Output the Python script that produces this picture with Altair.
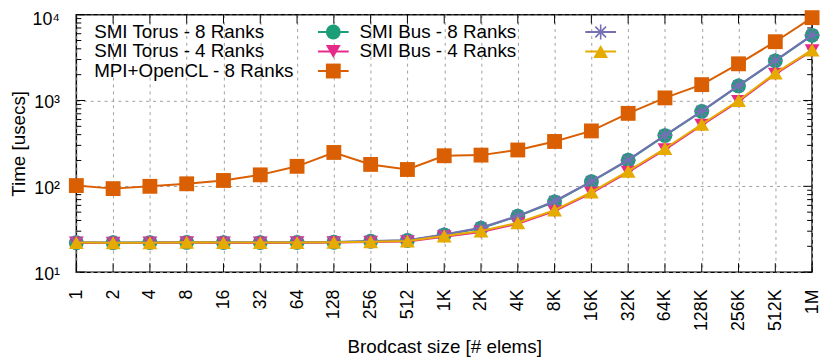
import altair as alt
import pandas as pd

# ---------------- data ----------------
sizes = ["1", "2", "4", "8", "16", "32", "64", "128", "256", "512",
         "1K", "2K", "4K", "8K", "16K", "32K", "64K", "128K", "256K", "512K", "1M"]

torus8 = [22.0, 22.0, 22.1, 22.2, 22.1, 22.1, 22.2, 22.3, 22.9, 23.4,
          27.2, 32.5, 44.8, 66, 113, 201, 390, 745, 1480, 2900, 5740]
torus4 = [21.9, 21.8, 21.9, 22.1, 21.9, 21.9, 22.0, 22.1, 22.4, 22.7,
          25.9, 29.4, 36.6, 51.3, 83.5, 146, 268, 515, 975, 2030, 3800]
mpi8 = [102, 94, 100, 107, 117, 136, 171, 248, 180, 157,
        227, 231, 265, 333, 442, 708, 1072, 1530, 2675, 4840, 9230]
bus8 = [22.3, 22.2, 22.2, 22.4, 22.3, 22.3, 22.3, 22.4, 23.0, 23.6,
        27.5, 32.9, 45.3, 67, 114, 203, 394, 752, 1490, 2920, 5780]
bus4 = [22.1, 22.0, 22.0, 22.3, 22.1, 22.1, 22.1, 22.3, 22.6, 23.0,
        26.4, 30.1, 37.6, 52.7, 85.7, 150, 276, 528, 1000, 2083, 3880]

series_names = ["SMI Torus - 8 Ranks", "SMI Torus - 4 Ranks", "MPI+OpenCL - 8 Ranks",
                "SMI Bus - 8 Ranks", "SMI Bus - 4 Ranks"]
series_values = [torus8, torus4, mpi8, bus8, bus4]

decades = [10, 100, 1000, 10000]
minor_ticks = [m * d for d in [10, 100, 1000] for m in range(2, 10)]

# ---------------- styles ----------------
W, H = 743, 260
FONT = "Liberation Sans"
colors = ["#1b9e77", "#e7298a", "#d95f02", "#7570b3", "#e6ab02"]
STAR = "M-1,0L1,0M0,-1L0,1M-0.72,-0.72L0.72,0.72M-0.72,0.72L0.72,-0.72"
shapes = ["circle", "triangle-down", "square", STAR, "triangle-up"]
filled = [True, True, True, False, True]

xscale = alt.Scale(type="point", padding=0, domain=sizes)
yscale = alt.Scale(type="log", domain=[10, 10000])

y_label_expr = ("'10' + (datum.value == 10 ? '\u00b9' : datum.value == 100 ? '\u00b2' : "
                "datum.value == 1000 ? '\u00b3' : '\u2074')")

x_axis = alt.Axis(title="Brodcast size [# elems]", labelAngle=270,
                  labelAlign="right", labelBaseline="middle",
                  labelPadding=17, ticks=False, domain=False,
                  grid=True, gridDash=[3, 4], gridColor="#a0a0a0",
                  gridWidth=1, titlePadding=7, labelFontSize=18, titleFontSize=19)
y_axis = alt.Axis(title="Time [usecs]", values=decades, labelExpr=y_label_expr,
                  ticks=False, domain=False, grid=True, gridDash=[3, 4],
                  gridColor="#a0a0a0", gridWidth=1, labelPadding=17,
                  titlePadding=4,
                  labelOffset={"condition": {"test": "datum.value == 10000", "value": 4.5},
                               "value": 2},
                  labelFontSize=18, titleFontSize=19)


def X():
    return alt.X("size:O", sort=sizes, scale=xscale, axis=x_axis)


def Y():
    return alt.Y("time:Q", scale=yscale, axis=y_axis)


layers = []

# base layer carrying axes
base_df = pd.DataFrame({"size": sizes, "time": mpi8})
layers.append(alt.Chart(base_df).mark_point(opacity=0).encode(x=X(), y=Y()))

# inward ticks (y major/minor on left and right, x on bottom and top)
tick_df = pd.DataFrame({"time": decades + minor_ticks,
                        "len": [9] * len(decades) + [5] * len(minor_ticks)})
for side in ["left", "right"]:
    x0 = 0 if side == "left" else W
    for length, sub in tick_df.groupby("len"):
        x1 = x0 + length if side == "left" else x0 - length
        layers.append(alt.Chart(sub).mark_rule(color="black", strokeWidth=1).encode(
            y=Y(), x=alt.value(x0), x2=alt.value(x1)))
xt_df = pd.DataFrame({"size": sizes})
for y0, y1 in [(H, H - 9), (0, 9)]:
    layers.append(alt.Chart(xt_df).mark_rule(color="black", strokeWidth=1).encode(
        x=X(), y=alt.value(y0), y2=alt.value(y1)))

# series
for name, vals, col, shp, fil in zip(series_names, series_values, colors, shapes, filled):
    df = pd.DataFrame({"size": sizes, "time": vals})
    layers.append(alt.Chart(df).mark_line(color=col, strokeWidth=2).encode(x=X(), y=Y()))
    layers.append(alt.Chart(df).mark_point(shape=shp, size=225, filled=fil, color=col,
                                           opacity=1, strokeWidth=1.6).encode(x=X(), y=Y()))

# legend (gnuplot style: label then sample)
ROW0, ROWH = 17.5, 19.7
COL_TEXT = [18, 286]
COL_SAMPLE = [259.5, 529.5]
for i, (name, col, shp, fil) in enumerate(zip(series_names, colors, shapes, filled)):
    c, r = i // 3, i % 3
    ly = ROW0 + r * ROWH
    ldf = pd.DataFrame({"label": [name]})
    layers.append(alt.Chart(ldf).mark_text(align="left", baseline="middle", fontSize=19,
                                           font=FONT, color="black").encode(
        x=alt.value(COL_TEXT[c]), y=alt.value(ly), text="label:N"))
    layers.append(alt.Chart(ldf).mark_rule(color=col, strokeWidth=2).encode(
        x=alt.value(COL_SAMPLE[c] - 15.5), x2=alt.value(COL_SAMPLE[c] + 15.5),
        y=alt.value(ly)))
    layers.append(alt.Chart(ldf).mark_point(shape=shp, size=225, filled=fil, color=col,
                                            opacity=1, strokeWidth=1.6).encode(
        x=alt.value(COL_SAMPLE[c]), y=alt.value(ly)))

chart = alt.layer(*layers).properties(
    width=W, height=H,
    background="white",
    autosize=alt.AutoSizeParams(type="none"),
    padding={"left": 69, "top": 5, "right": 10, "bottom": 88},
).configure_axis(
    labelFont=FONT, titleFont=FONT, labelFontSize=18, titleFontSize=19,
    labelColor="black", titleColor="black", titleFontWeight="normal",
    labelFontWeight="normal",
).configure_view(stroke="black", strokeWidth=1.5)

chart.save("out.html", embed_options={"renderer": "svg", "actions": False})
